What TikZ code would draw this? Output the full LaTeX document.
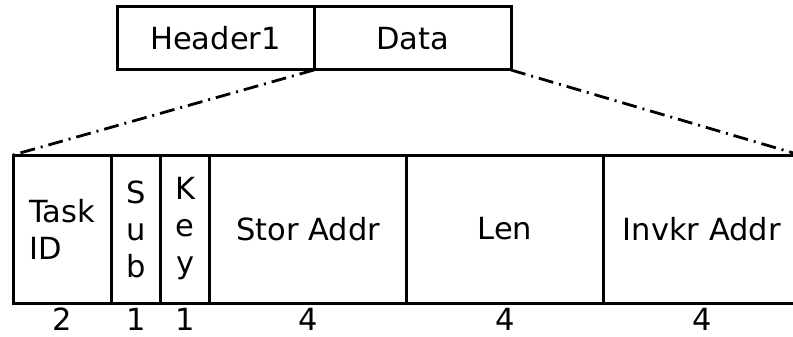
\documentclass[tikz,border=0pt]{standalone}
\usepackage{fontspec}
\setmainfont{DejaVu Sans}
\usetikzlibrary{positioning}

\begin{document}
\begin{tikzpicture}[
  x=1pt, y=1pt,
  every node/.style={font=\fontsize{30.5}{37}\selectfont},
  hdr/.style={rectangle, draw, line width=3pt, outer sep=0pt, minimum width=197pt, minimum height=63pt},
  field/.style={rectangle, draw, line width=3pt, outer sep=0pt, inner sep=0pt, minimum height=148pt, align=center},
  num/.style={anchor=center, inner sep=0pt},
  zoomline/.style={line width=2.8pt, dash pattern=on 15pt off 6pt on 2pt off 6pt}
]
\useasboundingbox (0,0) rectangle (793,-337);
\clip (0,0) rectangle (793,-337);
% packet header
\node[hdr] (head) at (215.5,-38.5) {Header1};
\node[hdr, right=0pt of head] (data) {Data};
% data field layout
\node[field, minimum width=98.4pt, anchor=north west, align=left] (task) at (13,-155) {Task\\ID};
\node[field, minimum width=49.2pt, right=0pt of task] (sub) {S\\u\\b};
\node[field, minimum width=49.2pt, right=0pt of sub] (key) {K\\e\\y};
\node[field, minimum width=196.8pt, right=0pt of key] (stor) {Stor Addr};
\node[field, minimum width=196.8pt, right=0pt of stor] (len) {Len};
\node[field, minimum width=196.8pt, right=0pt of len] (invkr) {Invkr Addr};
% byte counts
\node[below=16pt of task.south, num] (ntask) {2};
\node[below=16pt of sub.south, num] (nsub) {1};
\node[below=16pt of key.south, num] (nkey) {1};
\node[below=16pt of stor.south, num] (nstor) {4};
\node[below=16pt of len.south, num] (nlen) {4};
\node[below=16pt of invkr.south, num] (ninvkr) {4};
% expansion lines
\draw[zoomline] (data.south west) -- (task.north west);
\draw[zoomline] (data.south east) -- (invkr.north east);
\end{tikzpicture}
\end{document}
